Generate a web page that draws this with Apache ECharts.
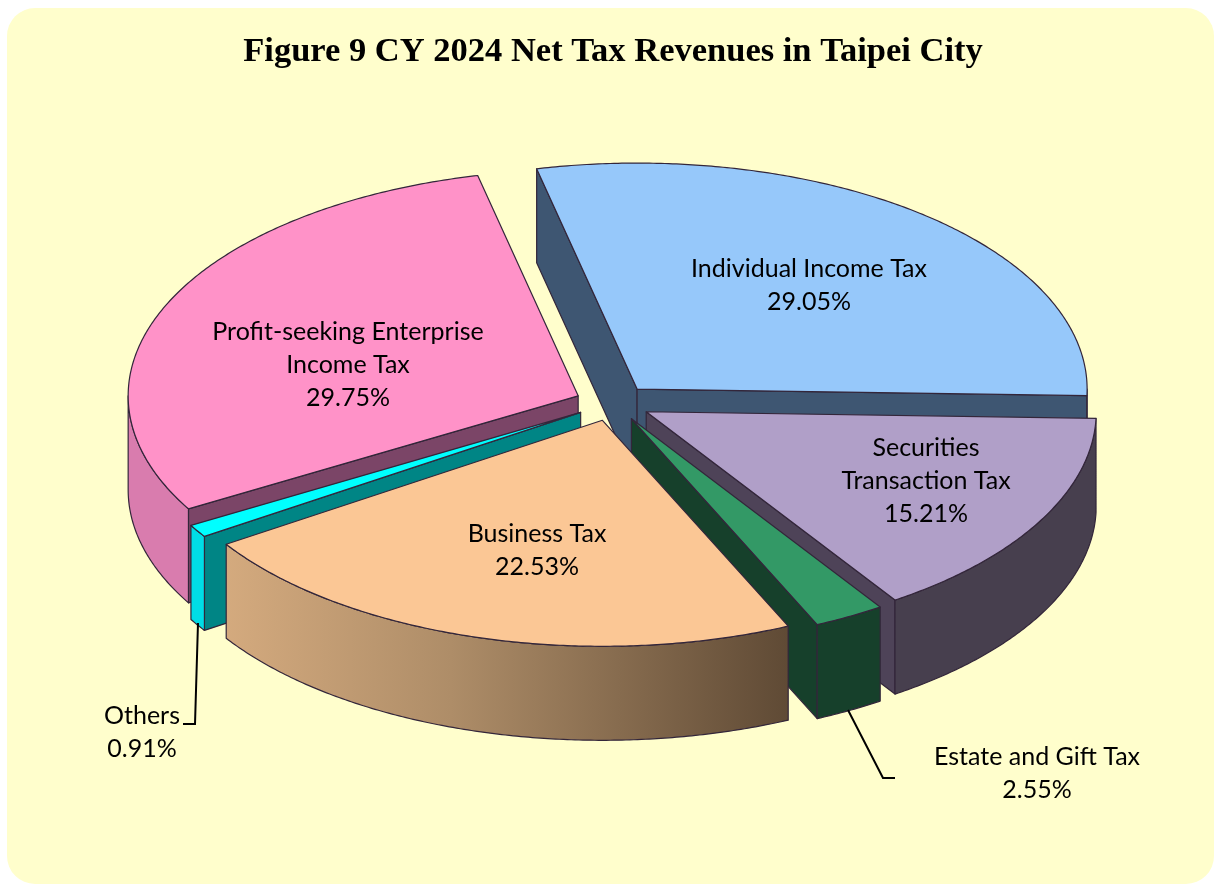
<!DOCTYPE html>
<html lang="en">
<head>
    <meta charset="UTF-8">
    <script src="https://cdn.jsdelivr.net/npm/echarts@6/dist/echarts.min.js"></script>
    <title>Figure 9 CY 2024 Net Tax Revenues in Taipei City</title>
    <style>
        html, body { margin: 0; background: #fff; }
        #main { width: 1214px; height: 884px; }
    </style>
</head>
<body>
<div id="main"></div>
<script type="text/javascript">
    // clockwise from the back of the pie
    var categories = ['Individual Income Tax', 'Securities Transaction Tax', 'Estate and Gift Tax', 'Business Tax', 'Others', 'Profit-seeking Enterprise Income Tax'];
    var shares = [29.05, 15.21, 2.55, 22.53, 0.91, 29.75];
    var labelNames = ['Individual Income Tax', 'Securities\nTransaction Tax', 'Estate and Gift Tax', 'Business Tax', 'Others', 'Profit-seeking Enterprise\nIncome Tax'];
    var titleText = 'Figure 9 CY 2024 Net Tax Revenues in Taipei City';

    // pie geometry
    var CX = 613, CY = 403, RX = 450, RY = 226, DEPTH = 94;
    var EXPLODE_X = 38, EXPLODE_Y = 18, START = -12.9;
    var EDGE = '#33263a';

    var topColors = ['#96c8fa', '#b09fc8', '#339966', '#fbc795', '#00ffff', '#ff92c8'];
    var radialColors = ['#3e5672', '#4e4358', '#16402b', '#634a33', '#008585', '#7b4567'];
    var outerColors = [
        '#3e5672', '#473f4e', '#16402b',
        {type: 'linear', x: 0, y: 0, x2: 1, y2: 0, colorStops: [{offset: 0, color: '#d4aa7e'}, {offset: 0.4, color: '#ae8d68'}, {offset: 1, color: '#5f4a35'}]},
        '#00dde6', '#d97cae'
    ];
    // back slices first so the front ones cover them
    var paintOrder = [0, 5, 4, 1, 2, 3];
    var labelCenters = [[809, 285], [926, 481], [1037, 773], [537, 550], [142, 732], [348, 365]];

    function rad(d) { return d * Math.PI / 180; }

    function sliceAngles(index) {
        var from = START;
        for (var i = 0; i < index; i++) {
            from += shares[i] * 3.6;
        }
        return [from, from + shares[index] * 3.6];
    }

    function rimPoint(c, a, dy) {
        return [c[0] + RX * Math.sin(rad(a)), c[1] - RY * Math.cos(rad(a)) + dy];
    }

    function arcPoints(c, a0, a1, dy) {
        var pts = [];
        var n = Math.max(2, Math.ceil((a1 - a0) * 2));
        for (var i = 0; i <= n; i++) {
            pts.push(rimPoint(c, a0 + (a1 - a0) * i / n, dy));
        }
        return pts;
    }

    function poly(points, fill, z) {
        return {
            type: 'polygon',
            z2: z,
            shape: {points: points},
            style: {fill: fill, stroke: EDGE, lineWidth: 1.2, lineJoin: 'round'}
        };
    }

    function radialWall(c, a, fill, z) {
        var p = rimPoint(c, a, 0);
        return poly([c, p, [p[0], p[1] + DEPTH], [c[0], c[1] + DEPTH]], fill, z);
    }

    function renderSlice(params, api) {
        var index = api.value(1);
        var angles = sliceAngles(index);
        var mid = rad((angles[0] + angles[1]) / 2);
        var c = [CX + EXPLODE_X * Math.sin(mid), CY - EXPLODE_Y * Math.cos(mid)];
        var z = params.dataIndex * 10;
        var children = [];

        if (Math.sin(rad(angles[0])) < 0) {
            children.push(radialWall(c, angles[0], radialColors[index], z));
        }
        if (Math.sin(rad(angles[1])) > 0) {
            children.push(radialWall(c, angles[1], radialColors[index], z));
        }
        // outer wall only on the near half of the rim
        var w0 = Math.max(angles[0], 90), w1 = Math.min(angles[1], 270);
        if (w1 > w0) {
            var upper = arcPoints(c, w0, w1, 0);
            var lower = arcPoints(c, w0, w1, DEPTH).reverse();
            children.push(poly(upper.concat(lower), outerColors[index], z + 1));
        }
        children.push(poly([c].concat(arcPoints(c, angles[0], angles[1], 0)), topColors[index], z + 2));
        return {type: 'group', children: children};
    }

    var labelGraphics = categories.map(function (name, i) {
        return {
            type: 'text',
            z: 50,
            x: labelCenters[i][0],
            y: labelCenters[i][1],
            style: {
                text: labelNames[i] + '\n' + shares[i].toFixed(2) + '%',
                fontFamily: 'Lato',
                fontSize: 25,
                lineHeight: 33,
                fill: '#000',
                align: 'center',
                verticalAlign: 'middle'
            }
        };
    });

    function leader(points) {
        return {
            type: 'polyline',
            z: 40,
            shape: {points: points},
            style: {stroke: '#000', lineWidth: 2, fill: null}
        };
    }

    var myChart = echarts.init(document.getElementById('main'), null, {renderer: 'canvas'});
    var option = {
        animation: false,
        graphic: [
            {type: 'rect', z: -10, shape: {x: 7, y: 8, width: 1207, height: 876, r: 28}, style: {fill: '#fffecc'}},
            {
                type: 'text', z: 50, x: 613, y: 52,
                style: {text: titleText, fontFamily: 'Liberation Serif', fontWeight: 'bold', fontSize: 34.5, fill: '#000', align: 'center', verticalAlign: 'middle'}
            },
            leader([[198, 623], [195, 724], [183, 724]]),
            leader([[848, 710], [883, 778], [895, 778]])
        ].concat(labelGraphics),
        series: [{
            type: 'custom',
            coordinateSystem: 'none',
            renderItem: renderSlice,
            data: paintOrder.map(function (i) { return [shares[i], i]; }),
            silent: true
        }]
    };
    myChart.setOption(option);
</script>
</body>
</html>
